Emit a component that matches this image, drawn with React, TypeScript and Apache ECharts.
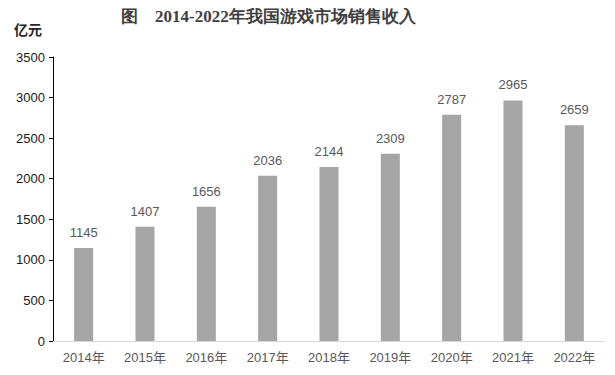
import React, { useEffect, useRef } from "react";
import * as echarts from "echarts";

const categories = ["2014年", "2015年", "2016年", "2017年", "2018年", "2019年", "2020年", "2021年", "2022年"];
const revenue = [1145, 1407, 1656, 2036, 2144, 2309, 2787, 2965, 2659];
const titleText = "图　2014-2022年我国游戏市场销售收入";
const unitText = "亿元";

export default function App() {
  const ref = useRef<HTMLDivElement>(null);
  useEffect(() => {
    if (!ref.current) return;
    const chart = echarts.init(ref.current, null, { renderer: "svg" });
    chart.setOption({
      animation: false,
      backgroundColor: "#ffffff",
      title: {
        text: titleText,
        left: 116,
        top: 3,
        textStyle: {
          fontFamily: "serif",
          fontWeight: "bold",
          fontSize: 17,
          color: "#404040",
        },
      },
      graphic: [
        {
          type: "text",
          left: 14,
          top: 22,
          style: {
            text: unitText,
            font: "bold 14px 'Noto Sans CJK SC', sans-serif",
            fill: "#262626",
          },
        },
      ],
      grid: { left: 53, right: 10, top: 57, bottom: 34, containLabel: false },
      xAxis: {
        type: "category",
        data: categories,
        axisLine: { lineStyle: { color: "#d9d9d9", width: 1 } },
        axisTick: { show: false },
        axisLabel: {
          color: "#595959",
          fontSize: 13,
          fontFamily: "'Liberation Sans', 'Noto Sans CJK SC', sans-serif",
          margin: 10,
        },
      },
      yAxis: {
        type: "value",
        min: 0,
        max: 3500,
        interval: 500,
        axisLine: { show: true, lineStyle: { color: "#000000", width: 1 } },
        axisTick: { show: true, length: 4, lineStyle: { color: "#000000" } },
        splitLine: { show: false },
        axisLabel: {
          color: "#1a1a1a",
          fontSize: 13,
          fontFamily: "'Liberation Sans', sans-serif",
          margin: 8,
          formatter: (v: number) => String(v),
        },
      },
      series: [
        {
          type: "bar",
          data: revenue,
          barWidth: "31%",
          itemStyle: { color: "#a5a5a5" },
          label: {
            show: true,
            position: "top",
            distance: 9,
            color: "#595959",
            fontSize: 13,
            fontFamily: "'Liberation Sans', sans-serif",
          },
        },
      ],
    });
    return () => chart.dispose();
  }, []);
  return <div ref={ref} style={{ width: 615, height: 375, margin: -8 }} />;
}
